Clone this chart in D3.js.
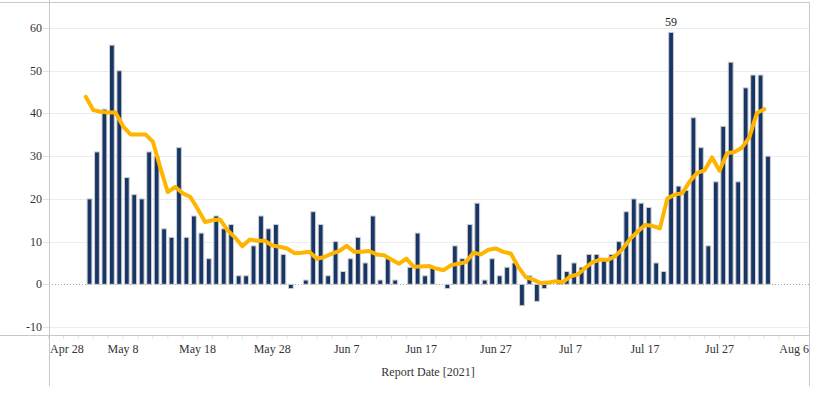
<!DOCTYPE html>
<html>
<head>
<meta charset="utf-8">
<script src="https://cdn.jsdelivr.net/npm/d3@7"></script>
<style>
  html, body { margin: 0; padding: 0; background: #fff; }
  svg { display: block; font-family: "Liberation Serif", "Times New Roman", serif; }
</style>
</head>
<body>
<div id="chart"></div>
<script>
// Daily counts, first bar is May 3 2021
const startDate = new Date(2021, 4, 3);
const dailyValues = [
  20, 31, 41, 56, 50, 25, 21, 20, 31, 30,
  13, 11, 32, 11, 16, 12, 6, 16, 13, 14,
  2, 2, 9, 16, 13, 14, 7, -1, 0, 1,
  17, 14, 2, 10, 3, 6, 11, 5, 16, 1,
  6, 1, 0, 4, 12, 2, 4, 0, -1, 9,
  6, 14, 19, 1, 6, 2, 4, 5, -5, 2,
  -4, -1, 0, 7, 3, 5, 4, 7, 7, 6,
  7, 10, 17, 20, 19, 18, 5, 3, 59, 23,
  22, 39, 32, 9, 24, 37, 52, 24, 46, 49,
  49, 30
];
// rolling average line (yellow)
const avgValues = [
  43.9, 40.8, 40.4, 40.2, 40.2, 37.0, 35.1, 35.1, 35.1, 33.4,
  27.3, 21.6, 22.8, 21.3, 20.5, 17.7, 14.6, 15.0, 15.2, 12.7,
  11.0, 8.9, 10.5, 10.2, 10.2, 9.1, 8.8, 8.4, 7.3, 7.4,
  7.6, 6.0, 6.4, 7.2, 7.8, 9.0, 7.6, 7.6, 7.8, 7.0,
  6.8, 5.8, 4.8, 6.0, 4.1, 4.2, 4.3, 3.7, 3.3, 4.5,
  4.8, 5.2, 7.4, 7.0, 8.1, 8.4, 7.6, 7.2, 4.1, 1.7,
  1.1, 0.3, 0.4, 0.7, 0.5, 1.9, 2.3, 3.9, 5.2, 5.8,
  5.7, 6.6, 8.3, 10.6, 12.3, 13.9, 13.7, 13.1, 20.1, 21.0,
  21.3, 24.1, 26.1, 26.7, 29.7, 26.6, 30.7, 31.0, 32.0, 34.4,
  40.1, 41.0
];
const yTickValues = [-10, 0, 10, 20, 30, 40, 50, 60];
const xTickLabels = ['Apr 28', 'May 8', 'May 18', 'May 28', 'Jun 7', 'Jun 17', 'Jun 27', 'Jul 7', 'Jul 17', 'Jul 27', 'Aug 6'];
const labelledValue = 59;

const width = 820, height = 393;
const plotLeft = 49, plotRight = 809, plotTop = 2, axisY = 336;

const data = dailyValues.map((v, i) => ({
  date: d3.timeDay.offset(startDate, i),
  value: v,
  avg: avgValues[i]
}));

const svg = d3.select('#chart').append('svg')
  .attr('width', width)
  .attr('height', height);

const x = d3.scaleTime()
  .domain([new Date(2021, 3, 28), new Date(2021, 7, 8)])
  .range([48.5, plotRight]);

const y = d3.scaleLinear()
  .domain([-12.1, 66.1])
  .range([axisY, plotTop]);

const dayW = x(d3.timeDay.offset(startDate, 1)) - x(startDate);

// gridlines
svg.append('g')
  .selectAll('line')
  .data(yTickValues.filter(v => v !== 0))
  .enter().append('line')
  .attr('x1', plotLeft).attr('x2', plotRight)
  .attr('y1', d => Math.round(y(d)) + 0.5).attr('y2', d => Math.round(y(d)) + 0.5)
  .attr('stroke', '#ececec').attr('stroke-width', 1);

// small tick marks left of axis
svg.append('g')
  .selectAll('line')
  .data(yTickValues)
  .enter().append('line')
  .attr('x1', 43).attr('x2', plotLeft)
  .attr('y1', d => Math.round(y(d)) + 0.5).attr('y2', d => Math.round(y(d)) + 0.5)
  .attr('stroke', '#e2e2e2').attr('stroke-width', 1);

// zero line, dotted
svg.append('line')
  .attr('x1', plotLeft).attr('x2', plotRight)
  .attr('y1', Math.round(y(0)) + 0.5).attr('y2', Math.round(y(0)) + 0.5)
  .attr('stroke', '#a8a8a8').attr('stroke-width', 1)
  .attr('stroke-dasharray', '1,2');

// y labels
svg.append('g')
  .selectAll('text')
  .data(yTickValues)
  .enter().append('text')
  .attr('x', 42)
  .attr('y', d => y(d) + 4)
  .attr('text-anchor', 'end')
  .attr('font-size', 12)
  .attr('fill', '#333')
  .text(d => d);

// bars
const barW = 4.8;
svg.append('g')
  .selectAll('rect')
  .data(data)
  .enter().append('rect')
  .attr('x', d => x(d.date) + dayW / 2 - barW / 2)
  .attr('y', d => y(Math.max(0, d.value)))
  .attr('width', barW)
  .attr('height', d => Math.abs(y(d.value) - y(0)))
  .attr('fill', '#173566')
  .attr('stroke', '#cfcfcf')
  .attr('stroke-width', 1);

// moving average line
const line = d3.line()
  .x(d => x(d.date))
  .y(d => y(d.avg));

svg.append('path')
  .datum(data)
  .attr('d', line)
  .attr('fill', 'none')
  .attr('stroke', '#ffb500')
  .attr('stroke-width', 4)
  .attr('stroke-linejoin', 'round')
  .attr('stroke-linecap', 'round');

// label on the peak bar
const peak = data.find(d => d.value === labelledValue);
svg.append('text')
  .attr('x', x(peak.date) + dayW / 2)
  .attr('y', y(peak.value) - 6)
  .attr('text-anchor', 'middle')
  .attr('font-size', 12)
  .attr('fill', '#222')
  .text(peak.value);

// frame lines
const frame = svg.append('g').attr('stroke', '#c8c8c8').attr('stroke-width', 1);
frame.append('line').attr('x1', 0).attr('x2', plotRight).attr('y1', plotTop + 0.5).attr('y2', plotTop + 0.5);
frame.append('line').attr('x1', 0).attr('x2', plotRight).attr('y1', axisY - 0.5).attr('y2', axisY - 0.5);
frame.append('line').attr('x1', plotLeft + 0.5).attr('x2', plotLeft + 0.5).attr('y1', 0).attr('y2', 386);
frame.append('line').attr('x1', plotRight + 0.5).attr('x2', plotRight + 0.5).attr('y1', plotTop).attr('y2', 386);

// x axis minor ticks, every 2 days
const minorTicks = d3.range(0, 102, 2).map(i => d3.timeDay.offset(new Date(2021, 3, 28), i));
svg.append('g')
  .selectAll('line')
  .data(minorTicks)
  .enter().append('line')
  .attr('x1', d => x(d)).attr('x2', d => x(d))
  .attr('y1', axisY).attr('y2', axisY + 3)
  .attr('stroke', '#e4e4e4').attr('stroke-width', 1);

// x labels every 10 days
svg.append('g')
  .selectAll('text')
  .data(xTickLabels)
  .enter().append('text')
  .attr('x', (d, i) => i === 0 ? 50 : x(d3.timeDay.offset(new Date(2021, 3, 28), i * 10)))
  .attr('y', 353)
  .attr('text-anchor', (d, i) => i === 0 ? 'start' : 'middle')
  .attr('font-size', 12)
  .attr('fill', '#333')
  .text(d => d);

svg.append('text')
  .attr('x', 428)
  .attr('y', 376)
  .attr('text-anchor', 'middle')
  .attr('font-size', 12)
  .attr('fill', '#333')
  .text('Report Date [2021]');
</script>
</body>
</html>
